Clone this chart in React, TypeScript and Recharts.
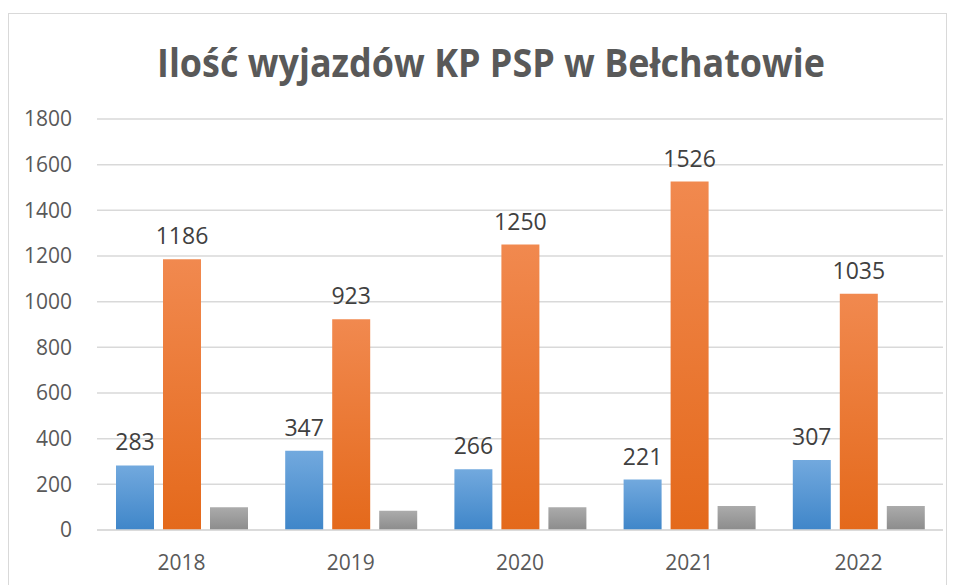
import React from 'react';
import { BarChart, Bar, XAxis, YAxis, CartesianGrid, LabelList } from 'recharts';

const categories = ['2018', '2019', '2020', '2021', '2022'];
const blueValues = [283, 347, 266, 221, 307];
const orangeValues = [1186, 923, 1250, 1526, 1035];
const grayValues = [100, 84, 100, 105, 105];
const yTicks = [0, 200, 400, 600, 800, 1000, 1200, 1400, 1600, 1800];
const title = 'Ilość wyjazdów KP PSP w Bełchatowie';

const data = categories.map((c, i) => ({
  year: c,
  a: blueValues[i],
  b: orangeValues[i],
  c: grayValues[i],
}));

const FONT = '"Open Sans", "DejaVu Sans", sans-serif';

export default function App() {
  return (
    <div style={{ position: 'absolute', left: 0, top: 0, width: 958, height: 585, background: '#fff', overflow: 'hidden' }}>
      <div style={{ position: 'absolute', left: 8, top: 13, width: 939, height: 600, border: '1.5px solid #d9d9d9', boxSizing: 'border-box' }} />
      <svg style={{ position: 'absolute', left: 0, top: 0 }} width={958} height={110}>
        <text
          x={491}
          y={77}
          textAnchor="middle"
          fontFamily={FONT}
          fontWeight={700}
          fontSize={39}
          fill="#595959"
          textLength={668}
          lengthAdjust="spacingAndGlyphs"
        >
          {title}
        </text>
      </svg>
      <div style={{ position: 'absolute', left: 0, top: 0 }}>
        <BarChart
          width={958}
          height={585}
          data={data}
          margin={{ top: 119, right: 15, bottom: 25, left: 0 }}
          barSize={38}
          barGap={9}
          style={{ fontFamily: FONT }}
        >
          <defs>
            <linearGradient id="gBlue" x1="0" y1="0" x2="0" y2="1">
              <stop offset="0%" stopColor="#72a9de" />
              <stop offset="100%" stopColor="#3f86c9" />
            </linearGradient>
            <linearGradient id="gOrange" x1="0" y1="0" x2="0" y2="1">
              <stop offset="0%" stopColor="#f1894f" />
              <stop offset="100%" stopColor="#e4691b" />
            </linearGradient>
            <linearGradient id="gGray" x1="0" y1="0" x2="0" y2="1">
              <stop offset="0%" stopColor="#ababab" />
              <stop offset="100%" stopColor="#8c8c8c" />
            </linearGradient>
          </defs>
          <CartesianGrid vertical={false} stroke="#d9d9d9" strokeWidth={1.5} />
          <XAxis
            dataKey="year"
            axisLine={{ stroke: '#d9d9d9', strokeWidth: 1.5 }}
            tickLine={false}
            tick={{ fill: '#595959', fontSize: 21 }}
            tickMargin={19}
            height={30}
          />
          <YAxis
            domain={[0, 1800]}
            ticks={yTicks}
            axisLine={false}
            tickLine={false}
            tick={{ fill: '#595959', fontSize: 21 }}
            tickMargin={19}
            width={97}
          />
          <Bar dataKey="a" fill="url(#gBlue)" isAnimationActive={false}>
            <LabelList dataKey="a" position="top" offset={15} fill="#404040" fontSize={23} />
          </Bar>
          <Bar dataKey="b" fill="url(#gOrange)" isAnimationActive={false}>
            <LabelList dataKey="b" position="top" offset={15} fill="#404040" fontSize={23} />
          </Bar>
          <Bar dataKey="c" fill="url(#gGray)" isAnimationActive={false} />
        </BarChart>
      </div>
    </div>
  );
}
